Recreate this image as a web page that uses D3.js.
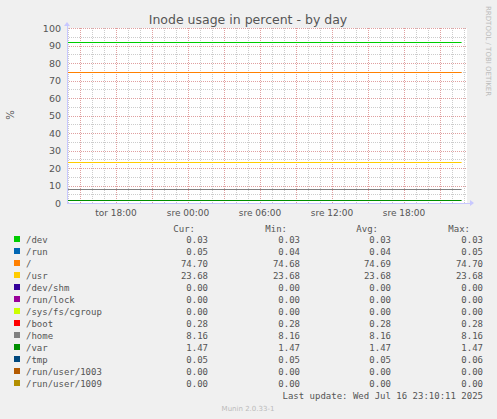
<!DOCTYPE html><html><head><meta charset="utf-8">
<script src="https://cdn.jsdelivr.net/npm/d3@7"></script>
<style>body{margin:0;background:#f0f0f0}svg{display:block}</style></head><body>
<script>
const names=["/dev","/run","/","/usr","/dev/shm","/run/lock","/sys/fs/cgroup","/boot","/home","/var","/tmp","/run/user/1003","/run/user/1009"];
const colors=["#00cc00","#0066b3","#ff8000","#ffcc00","#330099","#990099","#ccff00","#ff0000","#808080","#008f00","#00487d","#b35a00","#b38f00"];
const lineVals=[92,0.05,74.7,23.68,0,0,0,0.28,8.16,1.47,0.05,0,0];
const cur=["0.03","0.05","74.70","23.68","0.00","0.00","0.00","0.28","8.16","1.47","0.05","0.00","0.00"];
const mins=["0.03","0.04","74.68","23.68","0.00","0.00","0.00","0.28","8.16","1.47","0.05","0.00","0.00"];
const avgs=["0.03","0.04","74.69","23.68","0.00","0.00","0.00","0.28","8.16","1.47","0.05","0.00","0.00"];
const maxs=["0.03","0.05","74.70","23.68","0.00","0.00","0.00","0.28","8.16","1.47","0.06","0.00","0.00"];
const yTicks=[0,10,20,30,40,50,60,70,80,90,100];
const xTickLabels=["tor 18:00","sre 00:00","sre 06:00","sre 12:00","sre 18:00"];
const xTickHours=[18,24,30,36,42];
const tStart=13.92, tEnd=47.25;

const svg=d3.select("body").append("svg").attr("width",497).attr("height",419);
const L=67,R=467,T=28,B=203;
const x=d3.scaleLinear().domain([tStart,tEnd]).range([L,R]);
const y=d3.scaleLinear().domain([0,100]).range([B,T]);
const cx=v=>Math.round(x(v))+0.5, cy=v=>Math.round(y(v))+0.5;
svg.append("rect").attr("x",L).attr("y",T).attr("width",R-L).attr("height",B-T).attr("fill","#fff");
for(let v=5;v<=100;v+=10) svg.append("line").attr("x1",L).attr("x2",R).attr("y1",cy(v)).attr("y2",cy(v)).attr("stroke","#ccc").attr("stroke-dasharray","1,1");
for(let h=14;h<tEnd;h++) if(h%3) svg.append("line").attr("x1",cx(h)).attr("x2",cx(h)).attr("y1",T).attr("y2",B).attr("stroke","#ccc").attr("stroke-dasharray","1,1");
yTicks.forEach(v=>svg.append("line").attr("x1",L).attr("x2",R).attr("y1",cy(v)).attr("y2",cy(v)).attr("stroke","#e0a0a0").attr("stroke-dasharray","1,1"));
for(let h=15;h<tEnd;h+=3) svg.append("line").attr("x1",cx(h)).attr("x2",cx(h)).attr("y1",T).attr("y2",B).attr("stroke","#e0a0a0").attr("stroke-dasharray","1,1");
lineVals.forEach((v,i)=>svg.append("path").attr("d",d3.line()([[x(tStart),cy(v)],[x(46.8),cy(v)]])).attr("stroke",colors[i]).attr("stroke-width",1).attr("fill","none"));
svg.append("line").attr("x1",L).attr("x2",R+4).attr("y1",B+0.5).attr("y2",B+0.5).attr("stroke","#c8c8ff");
svg.append("line").attr("x1",L+0.5).attr("x2",L+0.5).attr("y1",B).attr("y2",T-5).attr("stroke","#c8c8ff");
svg.append("path").attr("d",`M${R+3},${B-3}L${R+7},${B}L${R+3},${B+3}Z`).attr("fill","#c8c8ff");
svg.append("path").attr("d",`M${L-3},${T-2}L${L},${T-6}L${L+3},${T-2}Z`).attr("fill","#c8c8ff");
const f="DejaVu Sans";
yTicks.forEach(v=>svg.append("text").attr("x",61).attr("y",y(v)+3.5).attr("text-anchor","end").attr("font-family",f).attr("font-size",9.5).attr("fill","#555").text(v));
xTickHours.forEach((h,i)=>svg.append("text").attr("x",x(h)).attr("y",216).attr("text-anchor","middle").attr("font-family",f).attr("font-size",9).attr("fill","#555").text(xTickLabels[i]));
svg.append("text").attr("x",248).attr("y",24).attr("text-anchor","middle").attr("font-family",f).attr("font-size",12.5).attr("fill","#555").text("Inode usage in percent - by day");
svg.append("text").attr("transform","translate(14,115) rotate(-90)").attr("text-anchor","middle").attr("font-family",f).attr("font-size",10).attr("fill","#555").text("%");
svg.append("text").attr("transform","translate(486,6) rotate(90)").attr("font-family",f).attr("font-size",7).attr("fill","#bbb").text("RRDTOOL / TOBI OETIKER");
const m="DejaVu Sans Mono", fs=9;
[["Cur:",195],["Min:",287],["Avg:",378],["Max:",470]].forEach(([t,xx])=>svg.append("text").attr("x",xx).attr("y",232).attr("text-anchor","end").attr("font-family",m).attr("font-size",fs).attr("fill","#555").text(t));
names.forEach((n,i)=>{const yy=243+i*12;
 svg.append("rect").attr("x",14).attr("y",yy-7).attr("width",6).attr("height",6).attr("fill",colors[i]);
 svg.append("text").attr("x",26).attr("y",yy).attr("font-family",m).attr("font-size",fs).attr("fill","#555").text(n);
 [[cur,208],[mins,300],[avgs,391],[maxs,483]].forEach(([a,xx])=>svg.append("text").attr("x",xx).attr("y",yy).attr("text-anchor","end").attr("font-family",m).attr("font-size",fs).attr("fill","#555").text(a[i]));
});
svg.append("text").attr("x",483).attr("y",399).attr("text-anchor","end").attr("font-family",m).attr("font-size",fs).attr("fill","#555").text("Last update: Wed Jul 16 23:10:11 2025");
svg.append("text").attr("x",248).attr("y",411).attr("text-anchor","middle").attr("font-family",f).attr("font-size",7).attr("fill","#bbb").text("Munin 2.0.33-1");
</script></body></html>
